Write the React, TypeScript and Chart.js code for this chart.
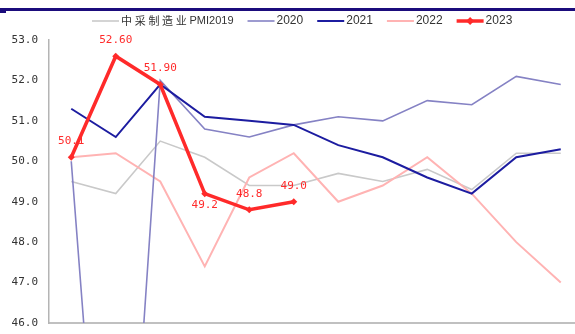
import React, { useEffect, useRef } from "react";
import { Chart, registerables } from "chart.js";

Chart.register(...registerables);

// Monthly manufacturing PMI readings, one array per year
const months = ["1月", "2月", "3月", "4月", "5月", "6月", "7月", "8月", "9月", "10月", "11月", "12月"];
const pmi2019 = [49.5, 49.2, 50.5, 50.1, 49.4, 49.4, 49.7, 49.5, 49.8, 49.3, 50.2, 50.2];
const pmi2020 = [50.0, 35.7, 52.0, 50.8, 50.6, 50.9, 51.1, 51.0, 51.5, 51.4, 52.1, 51.9];
const pmi2021 = [51.3, 50.6, 51.9, 51.1, 51.0, 50.9, 50.4, 50.1, 49.6, 49.2, 50.1, 50.3];
const pmi2022 = [50.1, 50.2, 49.5, 47.4, 49.6, 50.2, 49.0, 49.4, 50.1, 49.2, 48.0, 47.0];
const pmi2023 = [50.1, 52.6, 51.9, 49.2, 48.8, 49.0];
// decimals shown in the value labels of the 2023 series
const labelDigits2023 = [1, 2, 2, 1, 1, 1];
const seriesNames = ["中采制造业PMI2019", "2020", "2021", "2022", "2023"];
const yMin = 46;
const yMax = 53;

const MONO = '"DejaVu Sans Mono", monospace';
const SANS = '"Liberation Sans", Arial, sans-serif';
const CJK = '"Noto Sans CJK SC", sans-serif';

const legendPlugin = {
  id: "pmiLegend",
  afterDraw(chart: any) {
    const ctx = chart.ctx as CanvasRenderingContext2D;
    const y = 21;
    let x = 92;
    ctx.save();
    ctx.textBaseline = "middle";
    chart.data.datasets.forEach((ds: any) => {
      ctx.strokeStyle = ds.borderColor;
      ctx.lineWidth = ds.legendLineWidth;
      ctx.beginPath();
      ctx.moveTo(x, y);
      ctx.lineTo(x + 27, y);
      ctx.stroke();
      if (ds.pointRadius > 0) {
        ctx.fillStyle = ds.borderColor;
        ctx.beginPath();
        ctx.moveTo(x + 13.5, y - 4);
        ctx.lineTo(x + 17.5, y);
        ctx.lineTo(x + 13.5, y + 4);
        ctx.lineTo(x + 9.5, y);
        ctx.closePath();
        ctx.fill();
      }
      x += 29;
      ctx.fillStyle = "#333333";
      const label: string = ds.label;
      const m = label.match(/^([^\x00-\x7f]*)(.*)$/);
      const cjkPart = m ? m[1] : "";
      const latinPart = m ? m[2] : label;
      if (cjkPart) {
        ctx.font = `11px ${CJK}`;
        for (const ch of cjkPart) {
          ctx.fillText(ch, x, y);
          x += 13.7;
        }
        ctx.font = `11px ${SANS}`;
      } else {
        ctx.font = `12px ${SANS}`;
      }
      ctx.fillText(latinPart, x, y);
      x += ctx.measureText(latinPart).width + 14;
    });
    ctx.restore();
  },
};

const valueLabelPlugin = {
  id: "pmiValueLabels",
  afterDatasetsDraw(chart: any) {
    const idx = chart.data.datasets.findIndex((d: any) => d.label === "2023");
    if (idx < 0) return;
    const meta = chart.getDatasetMeta(idx);
    const ctx = chart.ctx as CanvasRenderingContext2D;
    ctx.save();
    ctx.font = `11px ${MONO}`;
    ctx.fillStyle = "#ff2a2a";
    ctx.textAlign = "center";
    ctx.textBaseline = "middle";
    meta.data.forEach((pt: any, i: number) => {
      const text = pmi2023[i].toFixed(labelDigits2023[i]);
      const below = i === 3;
      ctx.fillText(text, pt.x, below ? pt.y + 12 : pt.y - 16);
    });
    ctx.restore();
  },
};

export default function App() {
  const canvasRef = useRef<HTMLCanvasElement | null>(null);

  useEffect(() => {
    const canvas = canvasRef.current;
    if (!canvas) return;
    const chart = new Chart(canvas, {
      type: "line",
      data: {
        labels: months,
        datasets: [
          {
            label: seriesNames[0],
            data: pmi2019,
            borderColor: "#c9c9c9",
            borderWidth: 1.6,
            legendLineWidth: 1.6,
            pointRadius: 0,
            order: 4,
          },
          {
            label: seriesNames[1],
            data: pmi2020,
            borderColor: "#8582c4",
            borderWidth: 1.6,
            legendLineWidth: 1.6,
            pointRadius: 0,
            order: 2,
          },
          {
            label: seriesNames[2],
            data: pmi2021,
            borderColor: "#1c1ca0",
            borderWidth: 2,
            legendLineWidth: 2,
            pointRadius: 0,
            order: 1,
          },
          {
            label: seriesNames[3],
            data: pmi2022,
            borderColor: "#ffb3b3",
            borderWidth: 2,
            legendLineWidth: 2,
            pointRadius: 0,
            order: 3,
          },
          {
            label: seriesNames[4],
            data: pmi2023,
            borderColor: "#ff2a2a",
            backgroundColor: "#ff2a2a",
            borderWidth: 3.5,
            legendLineWidth: 3.5,
            pointRadius: 3.5,
            pointStyle: "rectRot",
            pointBorderWidth: 0,
            order: 0,
          },
        ] as any,
      },
      options: {
        responsive: false,
        animation: false,
        devicePixelRatio: 1,
        layout: { padding: { top: 40, right: 17, left: 0, bottom: 0 } },
        plugins: {
          legend: { display: false },
          tooltip: { enabled: false },
        },
        elements: { line: { tension: 0 } },
        scales: {
          x: {
            offset: true,
            grid: { display: false, drawTicks: false },
            border: { display: true, color: "#c0c0c0", width: 2 },
            ticks: {
              color: "#aaaaaa",
              font: { size: 11, family: CJK },
              padding: 9,
              maxRotation: 0,
              autoSkip: false,
            },
            afterFit(scale: any) {
              scale.height = 27;
            },
          },
          y: {
            min: yMin,
            max: yMax,
            grid: { display: false, drawTicks: false },
            border: { display: true, color: "#b4b4b4", width: 1.5 },
            ticks: {
              stepSize: 1,
              color: "#333333",
              padding: 11,
              font: { size: 11, family: MONO },
              callback: (v: any) => Number(v).toFixed(1),
            },
            afterFit(scale: any) {
              scale.width = 49;
            },
          },
        },
      },
      plugins: [legendPlugin, valueLabelPlugin],
    });
    return () => chart.destroy();
  }, []);

  return (
    <div
      style={{
        position: "fixed",
        left: 0,
        top: 0,
        width: 575,
        height: 334,
        overflow: "hidden",
        background: "#ffffff",
      }}
    >
      <div style={{ position: "absolute", left: 0, top: 8, width: 575, height: 3, background: "#1b0c7c" }} />
      <div style={{ position: "absolute", left: 0, top: 11, width: 6, height: 2, background: "#1b0c7c" }} />
      <canvas ref={canvasRef} width={600} height={350} style={{ position: "absolute", left: 0, top: 0 }} />
    </div>
  );
}
